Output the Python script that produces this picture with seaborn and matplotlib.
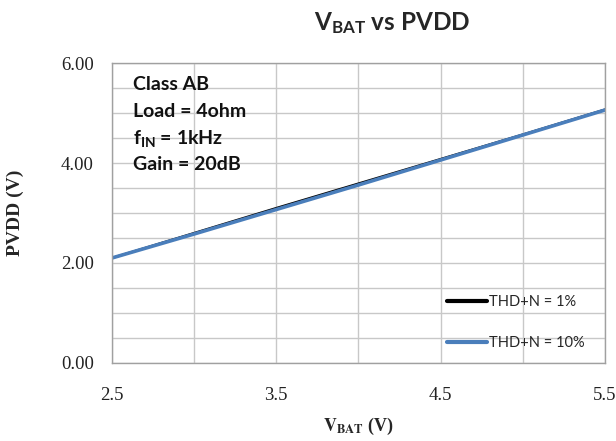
import numpy as np
import pandas as pd
import matplotlib
matplotlib.use("Agg")
import matplotlib.pyplot as plt
import seaborn as sns
from matplotlib.ticker import MultipleLocator, FormatStrFormatter

# Data
vbat = [2.5, 3.0, 3.5, 4.0, 4.5, 5.0, 5.5]
pvdd_thd1 = [2.10, 2.60, 3.10, 3.59, 4.08, 4.57, 5.07]
pvdd_thd10 = [2.10, 2.58, 3.07, 3.56, 4.06, 4.56, 5.06]
series_names = ["THD+N = 1%", "THD+N = 10%"]
x_ticks = [2.5, 3.5, 4.5, 5.5]
y_ticks = [0, 2, 4, 6]
notes = ["Class AB", "Load = 4ohm", r"$\mathrm{f}_{\mathrm{IN}}$ = 1kHz", "Gain = 20dB"]

df = pd.DataFrame({
    "vbat": vbat * 2,
    "pvdd": pvdd_thd1 + pvdd_thd10,
    "series": [series_names[0]] * len(vbat) + [series_names[1]] * len(vbat),
})

sns.set_theme(style="whitegrid")
plt.rcParams["mathtext.fontset"] = "custom"
plt.rcParams["mathtext.rm"] = "Lato:bold"
plt.rcParams["mathtext.it"] = "Lato:bold"
plt.rcParams["mathtext.bf"] = "Lato:bold"

fig = plt.figure(figsize=(6.16, 4.41), dpi=100)
ax = fig.add_axes([0.1818, 0.177, 0.8002, 0.680])

palette = {series_names[0]: "black", series_names[1]: "#4a7ebb"}
sns.lineplot(data=df[df["series"] == series_names[0]], x="vbat", y="pvdd",
             color=palette[series_names[0]], linewidth=1.6, label=series_names[0], ax=ax)
sns.lineplot(data=df[df["series"] == series_names[1]], x="vbat", y="pvdd",
             color=palette[series_names[1]], linewidth=2.6, label=series_names[1], ax=ax)

ax.set_xlim(2.5, 5.5)
ax.set_ylim(0, 6)
ax.set_xticks(x_ticks)
ax.set_yticks(y_ticks)
ax.xaxis.set_minor_locator(MultipleLocator(0.5))
ax.yaxis.set_minor_locator(MultipleLocator(0.5))
ax.yaxis.set_major_formatter(FormatStrFormatter("%.2f"))
ax.xaxis.set_major_formatter(FormatStrFormatter("%.1f"))
ax.grid(True, which="both", color="#c8c8c8", linewidth=1.0)
ax.set_axisbelow(True)
for s in ax.spines.values():
    s.set_color("#a0a0a0")
    s.set_linewidth(1.0)

ax.tick_params(axis="both", which="both", length=0)
ax.tick_params(axis="y", pad=13)
ax.tick_params(axis="x", pad=17)
for lbl in ax.get_xticklabels() + ax.get_yticklabels():
    lbl.set_fontfamily("Liberation Serif")
    lbl.set_fontsize(13.5)
    lbl.set_color("#222222")

ax.set_xlabel("")
ax.set_ylabel("")
fig.text(0.581, 0.032, r"$\mathbf{V}_{\mathbf{BAT}}$ (V)", ha="center", va="center",
         fontfamily="Liberation Serif", fontweight="bold", fontsize=13,
         math_fontfamily="stix")
fig.text(0.025, 0.517, "PVDD (V)", ha="center", va="center", rotation=90,
         fontfamily="Liberation Serif", fontweight="bold", fontsize=14)

# Title with subscript
fig.text(0.637, 0.948, r"$\mathrm{V}_{\mathrm{BAT}}$ vs PVDD", ha="center", va="center",
         fontfamily="Lato", fontweight="bold", fontsize=17.5)

# Condition notes
note_y = [0.927, 0.840, 0.750, 0.663]
for txt, yy in zip(notes, note_y):
    ax.text(0.043, yy, txt, transform=ax.transAxes, ha="left", va="center",
            fontfamily="Lato", fontweight="bold", fontsize=14, color="#111111")

leg = ax.legend(loc="center left", bbox_to_anchor=(0.68, 0.135), frameon=False,
                prop={"family": "Lato", "size": 10.5}, labelspacing=1.85,
                handlelength=2.7, handletextpad=0.15, borderpad=0, borderaxespad=0)
for line in leg.get_lines():
    line.set_linewidth(3)

fig.savefig("out.png", dpi=100)
